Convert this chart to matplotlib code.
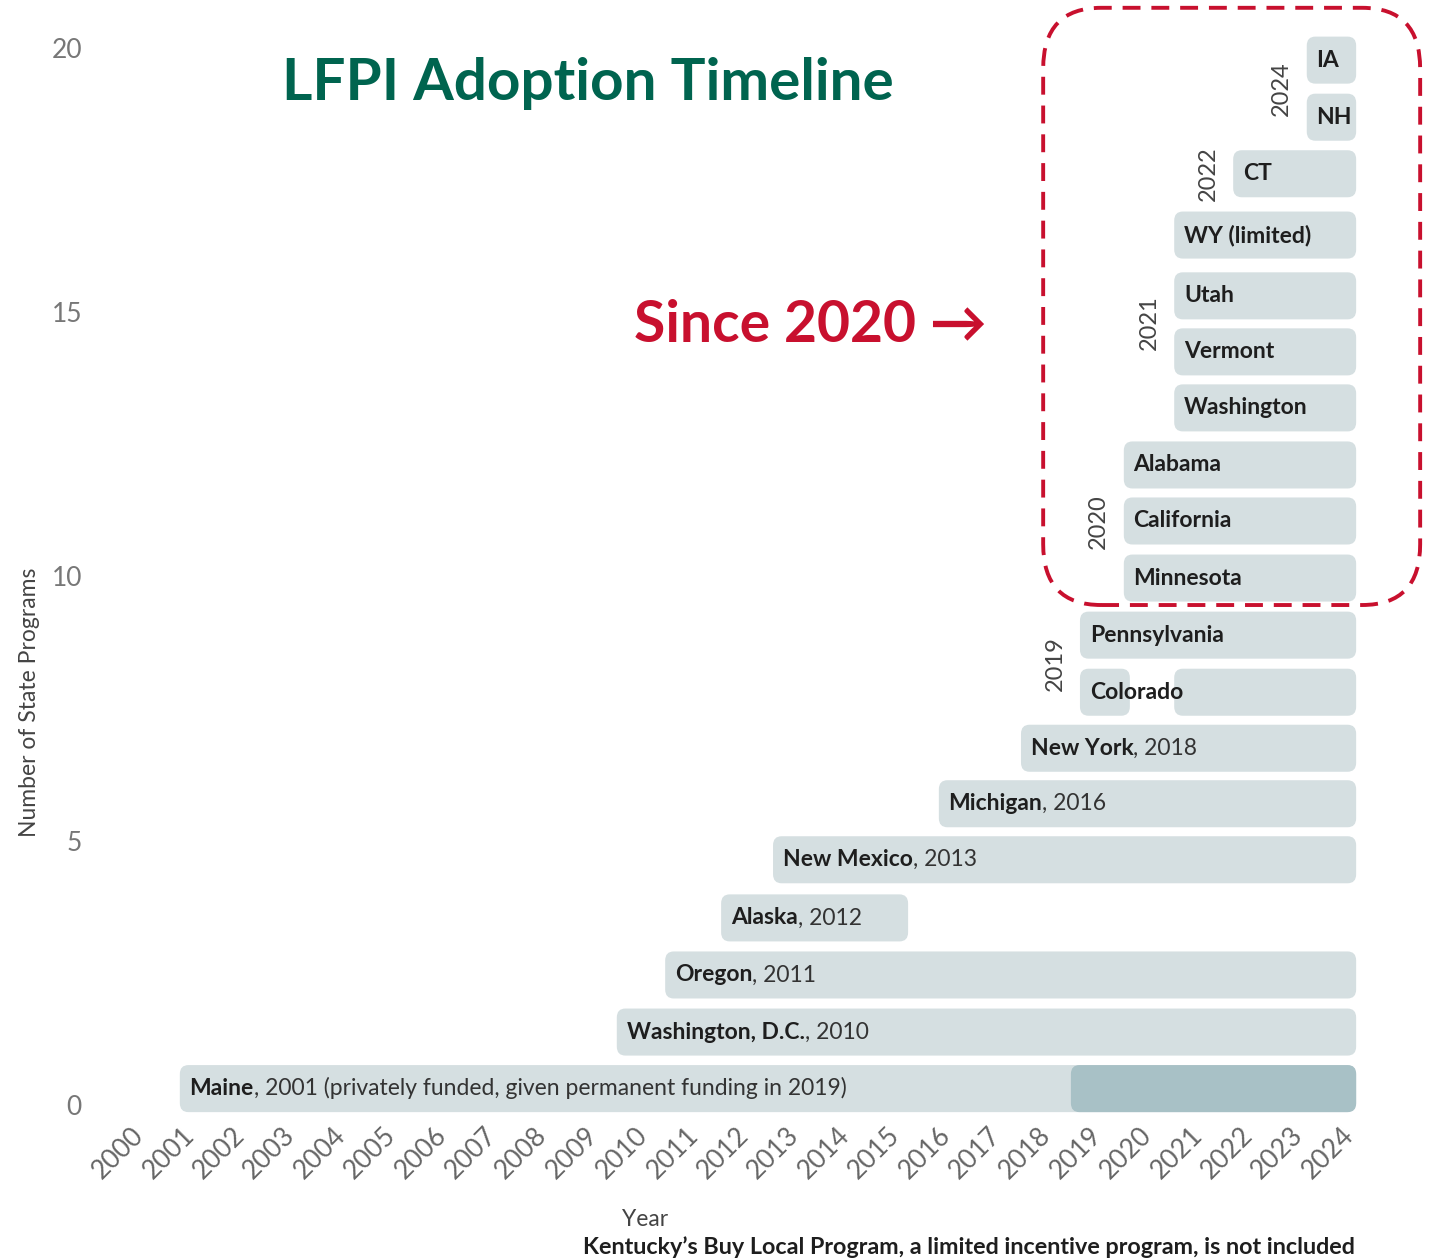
import matplotlib
matplotlib.use("Agg")
import matplotlib.pyplot as plt
from matplotlib.patches import FancyBboxPatch
from matplotlib.transforms import offset_copy, blended_transform_factory

plt.rcParams["font.family"] = ["Lato", "DejaVu Sans"]

# programs, bottom to top
states = ["Maine", "Washington, D.C.", "Oregon", "Alaska", "New Mexico", "Michigan",
          "New York", "Colorado", "Pennsylvania", "Minnesota", "California", "Alabama",
          "Washington", "Vermont", "Utah", "WY (limited)", "CT", "NH", "IA"]
suffix = [", 2001 (privately funded, given permanent funding in 2019)", ", 2010", ", 2011",
          ", 2012", ", 2013", ", 2016", ", 2018", "", "", "", "", "", "", "", "", "", "", "", ""]
row_y = [0.31, 1.38, 2.46, 3.54, 4.64, 5.70, 6.75, 7.81, 8.89, 9.97, 11.05, 12.11,
         13.19, 14.25, 15.31, 16.46, 17.62, 18.69, 19.77]
start = [2000.83, 2009.50, 2010.46, 2011.57, 2012.60, 2015.89, 2017.52, 2018.69, 2018.69,
         2019.56, 2019.56, 2019.56, 2020.56, 2020.56, 2020.56, 2020.56, 2021.73, 2023.19, 2023.19]
end = [2024.17, 2024.17, 2024.17, 2015.28, 2024.17, 2024.17, 2024.17, 2019.68, 2024.17,
       2024.17, 2024.17, 2024.17, 2024.17, 2024.17, 2024.17, 2024.17, 2024.17, 2024.17, 2024.17]

# extra segments: (row, start, end, dark?)
extra_rows = [7, 0]
extra_start = [2020.56, 2018.51]
extra_end = [2024.17, 2024.17]
extra_dark = [False, True]

# rotated year labels for the later groups
group_years = ["2019", "2020", "2021", "2022", "2024"]
group_rows = [[7, 8], [9, 10, 11], [12, 13, 14, 15], [16], [17, 18]]

years = list(range(2000, 2025))
bar_h = 0.89
light = "#d5dfe1"
dark = "#a8c1c6"
red = "#c8102e"
green = "#00644f"

fig = plt.figure(figsize=(14.35, 12.60), dpi=100)
W, H = 1435, 1260
ax = fig.add_axes([100 / W, (H - 1120) / H, 1300 / W, 1090 / H])
ax.set_xlim(1999.246, 2025.04)
ax.set_ylim(-0.284, 20.34)


def bar(y, x0, x1, color):
    p = FancyBboxPatch((x0, y - bar_h / 2), x1 - x0, bar_h,
                       boxstyle="round,pad=0,rounding_size=0.17",
                       fc=color, ec="none", zorder=2)
    ax.add_patch(p)


for i, s in enumerate(states):
    bar(row_y[i], start[i], end[i], light)
for r, x0, x1, d in zip(extra_rows, extra_start, extra_end, extra_dark):
    bar(row_y[r], x0, x1, dark if d else light)

for i, s in enumerate(states):
    tr = offset_copy(ax.transData, fig=fig, x=7, y=0, units="points")
    t = ax.text(start[i], row_y[i], s, transform=tr, fontsize=16.5, fontweight="bold",
                color="#1e1e1e", ha="left", va="center", zorder=3)
    if suffix[i]:
        ax.annotate(suffix[i], xy=(1, 0), xycoords=t, ha="left", va="bottom",
                    fontsize=16.5, color="#333333", zorder=3)

for yr, rows in zip(group_years, group_rows):
    yc = sum(row_y[r] for r in rows) / len(rows)
    x0 = start[rows[0]]
    tr = offset_copy(ax.transData, fig=fig, x=-18, y=0, units="points")
    ax.text(x0, yc, yr, transform=tr, rotation=90, ha="center", va="center",
            fontsize=17, color="#444444")

# year tick labels, drawn as text so they can sit a little left of the tick
ax.set_xticks(years)
ax.set_xticklabels([])
xtr = offset_copy(blended_transform_factory(ax.transData, ax.transAxes), fig=fig,
                  x=-5, y=-2, units="points")
for yv in years:
    ax.text(yv, 0, str(yv), transform=xtr, rotation=45, ha="right", va="top",
            rotation_mode="anchor", fontsize=19, color="#666666", clip_on=False)

ax.set_yticks([0, 5, 10, 15, 20])
ax.set_yticklabels(["0", "5", "10", "15", "20"], fontsize=19, color="#777777")
ax.tick_params(length=0)
ax.tick_params(axis="y", pad=13)
for sp in ax.spines.values():
    sp.set_visible(False)

fig.text(30 / W, 1 - 702 / H, "Number of State Programs", rotation=90, ha="center",
         va="center", fontsize=16.5, color="#444444")
fig.text(645 / W, 1 - 1220 / H, "Year", ha="center", va="center", fontsize=16.5,
         color="#444444")
fig.text(1355 / W, 1 - 1247 / H,
         "Kentucky\u2019s Buy Local Program, a limited incentive program, is not included",
         ha="right", va="center", fontsize=16.8, fontweight="bold", color="#1e1e1e")

fig.text(588 / W, 1 - 83 / H, "LFPI Adoption Timeline", ha="center", va="center",
         fontsize=42, fontweight="bold", color=green)
fig.text(810 / W, 1 - 325 / H, "Since 2020 \u2192", ha="center", va="center",
         fontsize=41, fontweight="bold", color=red)

# dashed callout around the post-2020 programs
box = FancyBboxPatch((2017.96, 9.46), 2025.44 - 2017.96, 20.76 - 9.46,
                     boxstyle="round,pad=0,rounding_size=1.15", fc="none", ec=red,
                     lw=2.8, ls=(0, (4.6, 2.8)), clip_on=False, zorder=4)
ax.add_patch(box)

fig.savefig("out.png", dpi=100)
